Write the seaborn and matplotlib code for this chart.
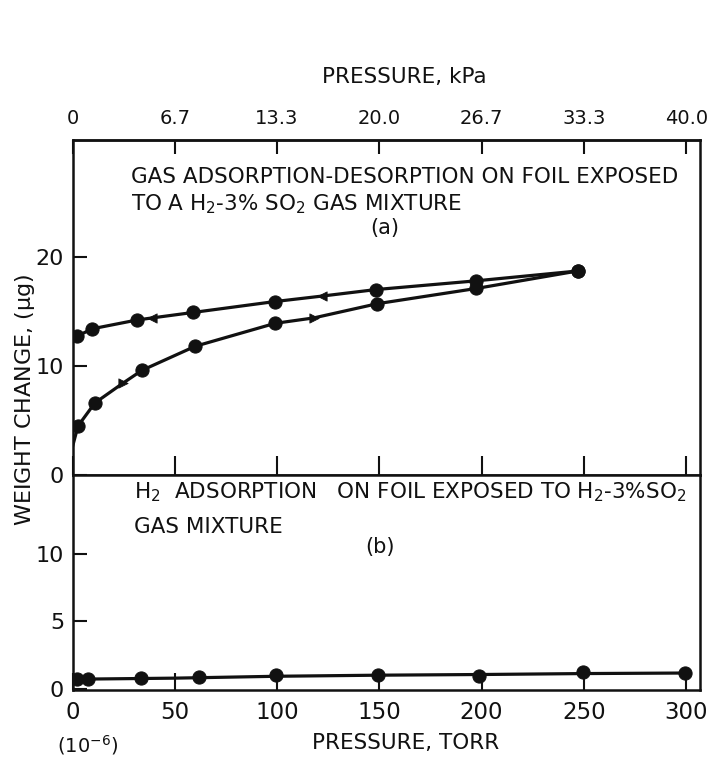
import pandas as pd
import matplotlib.pyplot as plt
import seaborn as sns

# (a) adsorption branch, pressure in torr, weight change in micrograms
ads_torr = [2.7, 10.9, 34, 60, 99, 149, 197.5, 247]
ads_wt = [4.5, 6.6, 9.6, 11.8, 13.9, 15.7, 17.1, 18.7]
ads_arrow_torr = [24.5, 118]
ads_arrow_wt = [8.4, 14.4]
ads_start = [0, 2.6]

# (a) desorption branch
des_torr = [2.0, 9.6, 31.3, 59, 99, 148.5, 197.5, 247]
des_wt = [12.7, 13.4, 14.2, 14.9, 15.9, 17.0, 17.8, 18.7]
des_arrow_torr = [39, 122]
des_arrow_wt = [14.4, 16.4]
des_start = [0, 12.5]

# (b) H2 adsorption
h2_torr = [2.0, 7.6, 33.5, 61.7, 99.7, 149.4, 198.9, 249.7, 299.2]
h2_wt = [0.72, 0.72, 0.79, 0.87, 1.04, 1.04, 0.96, 1.24, 1.16]
h2_line_torr = [0, 50, 100, 150, 200, 250, 300]
h2_line_wt = [0.7, 0.78, 0.92, 1.0, 1.05, 1.12, 1.16]

torr_ticks = [0, 50, 100, 150, 200, 250, 300]
kpa_ticks = [0, 6.67, 13.33, 20.0, 26.66, 33.33, 40.0]
kpa_labels = ["0", "6.7", "13.3", "20.0", "26.7", "33.3", "40.0"]

sns.set_style("ticks")
plt.rcParams["font.family"] = ["DejaVu Sans"]
plt.rcParams["mathtext.default"] = "regular"
plt.rcParams["axes.linewidth"] = 1.8

ink = "#111111"


def branch(start, xs, ys, ax_x, ax_y):
    df = pd.DataFrame({"torr": [start[0]] + xs + ax_x,
                       "wt": [start[1]] + ys + ax_y})
    return df.sort_values("torr")


fig = plt.figure(figsize=(7.11, 7.57), dpi=100)
ax_a = fig.add_axes([0.102, 0.3725, 0.8826, 0.4425])
ax_b = fig.add_axes([0.102, 0.0885, 0.8826, 0.284])
xmax = 306.8

# panel (a)
for start, xs, ys, axx, axy, mk in [
        (ads_start, ads_torr, ads_wt, ads_arrow_torr, ads_arrow_wt, ">"),
        (des_start, des_torr, des_wt, des_arrow_torr, des_arrow_wt, "<")]:
    line = branch(start, xs, ys, axx, axy)
    sns.lineplot(data=line, x="torr", y="wt", sort=False, estimator=None,
                 color=ink, lw=2.3, ax=ax_a)
    sns.scatterplot(x=xs, y=ys, color=ink, s=90, edgecolor=ink, ax=ax_a, zorder=3)
    sns.scatterplot(x=axx, y=axy, color=ink, marker=mk, s=45, edgecolor=ink,
                    ax=ax_a, zorder=3)

ax_a.set_xlim(0, xmax)
ax_a.set_ylim(0, 30.7)
ax_a.set_xticks(torr_ticks)
ax_a.set_yticks([0, 10, 20])
ax_a.set_xlabel("")
ax_a.set_ylabel("")
ax_a.tick_params(axis="x", direction="in", length=14, width=1.5,
                 labelbottom=False, color=ink)
ax_a.tick_params(axis="y", direction="in", length=10, width=1.5,
                 labelsize=16, pad=6, colors=ink)

sec = ax_a.secondary_xaxis("top", functions=(lambda t: t * 0.133322,
                                              lambda k: k / 0.133322))
sec.set_xticks(kpa_ticks)
sec.set_xticklabels(kpa_labels)
sec.tick_params(direction="in", length=10, width=1.5, labelsize=14, pad=9,
                colors=ink)

ax_a.text(0.093, 0.89, "GAS ADSORPTION-DESORPTION ON FOIL EXPOSED",
          transform=ax_a.transAxes, fontsize=15.5, va="center", color=ink)
ax_a.text(0.093, 0.809, "TO A H$_2$-3% SO$_2$ GAS MIXTURE",
          transform=ax_a.transAxes, fontsize=15.5, va="center", color=ink)
ax_a.text(0.498, 0.737, "(a)", transform=ax_a.transAxes, fontsize=15,
          ha="center", va="center", color=ink)

# panel (b)
sns.lineplot(x=h2_line_torr, y=h2_line_wt, color=ink, lw=2.3, ax=ax_b)
sns.scatterplot(x=h2_torr, y=h2_wt, color=ink, s=90, edgecolor=ink, ax=ax_b,
                zorder=3)
ax_b.set_xlim(0, xmax)
ax_b.set_ylim(-0.1, 15.85)
ax_b.set_xticks(torr_ticks)
ax_b.set_yticks([0, 5, 10])
ax_b.tick_params(axis="x", direction="in", length=12, width=1.5,
                 labelsize=16.5, pad=8, colors=ink)
ax_b.tick_params(axis="y", direction="in", length=10, width=1.5,
                 labelsize=16, pad=6, colors=ink)
ax_b.text(0.098, 0.921,
          "H$_2$  ADSORPTION   ON FOIL EXPOSED TO H$_2$-3%SO$_2$",
          transform=ax_b.transAxes, fontsize=15.5, va="center", color=ink)
ax_b.text(0.098, 0.758, "GAS MIXTURE", transform=ax_b.transAxes, fontsize=15.5,
          va="center", color=ink)
ax_b.text(0.49, 0.665, "(b)", transform=ax_b.transAxes, fontsize=15,
          ha="center", va="center", color=ink)

for ax in (ax_a, ax_b):
    for sp in ax.spines.values():
        sp.set_visible(True)
        sp.set_color(ink)

fig.text(404 / 711, 1 - 77 / 757, "PRESSURE, kPa", fontsize=15.5,
         ha="center", va="center", color=ink)
fig.text(406 / 711, 1 - 743 / 757, "PRESSURE, TORR", fontsize=15.5,
         ha="center", va="center", color=ink)
fig.text(88 / 711, 1 - 745 / 757, "(10$^{-6}$)", fontsize=14,
         ha="center", va="center", color=ink)
fig.text(25 / 711, 1 - 400 / 757, "WEIGHT CHANGE, ($\\mu$g)", fontsize=16,
         rotation=90, ha="center", va="center", color=ink)

fig.savefig("out.png", dpi=100, facecolor="white")
